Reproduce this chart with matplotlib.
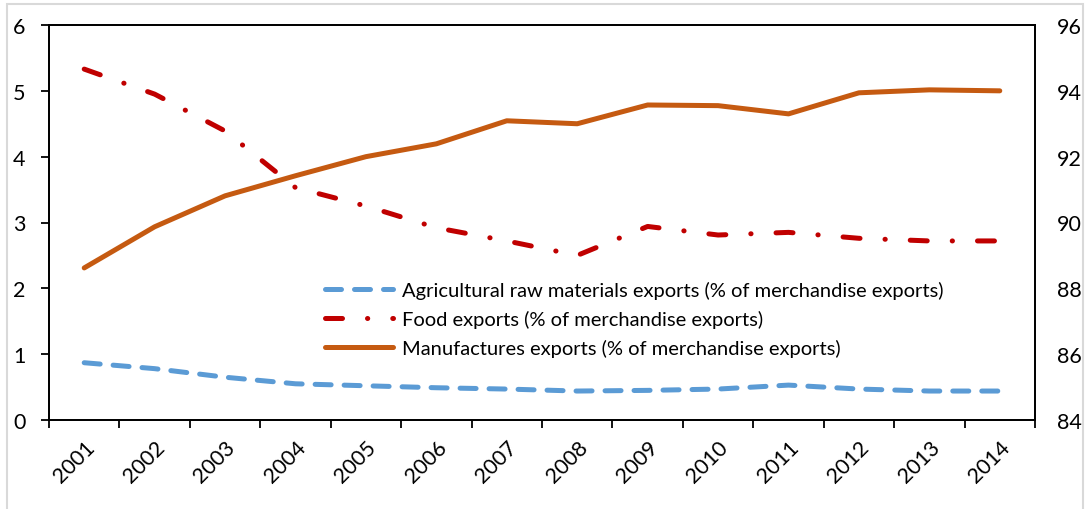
import matplotlib as mpl
mpl.use('Agg')
import matplotlib.pyplot as plt
from matplotlib.patches import Rectangle

plt.rcParams['font.family'] = ['Lato', 'DejaVu Sans']

# 数据
years = ['2001', '2002', '2003', '2004', '2005', '2006', '2007',
         '2008', '2009', '2010', '2011', '2012', '2013', '2014']
agri = [0.87, 0.78, 0.65, 0.55, 0.52, 0.49, 0.47, 0.44, 0.45, 0.47, 0.53, 0.47, 0.44, 0.44]
food = [5.33, 4.95, 4.39, 3.53, 3.25, 2.92, 2.72, 2.50, 2.94, 2.81, 2.85, 2.76, 2.72, 2.72]
manu = [88.62, 89.87, 90.81, 91.42, 92.00, 92.39, 93.09, 93.00, 93.57, 93.55, 93.30, 93.94, 94.03, 94.00]

labels = ['Agricultural raw materials exports (% of merchandise exports)',
          'Food exports (% of merchandise exports)',
          'Manufactures exports (% of merchandise exports)']

fs = 14.5
tfs = 15.5
fig = plt.figure(figsize=(10.88, 5.10), dpi=100)
ax = fig.add_axes([49/1088, 1-421/510, (1035-49)/1088, (421-26)/510])
ax2 = ax.twinx()

x = list(range(len(years)))
l1, = ax.plot(x, agri, color='#5B9BD5', lw=3.6, dashes=(3.2, 2.6),
              dash_capstyle='round', solid_capstyle='round')
l2, = ax.plot(x, food, color='#C00000', lw=3.6, dashes=(3.4, 5.0, 0.05, 5.0),
              dash_capstyle='round', solid_capstyle='round')
l3, = ax2.plot(x, manu, color='#C55A11', lw=3.6, solid_capstyle='round')

ax.set_xlim(-0.5, len(years) - 0.5)
ax.set_ylim(0, 6)
ax2.set_ylim(84, 96)
ax.set_yticks(range(0, 7))
ax2.set_yticks(range(84, 97, 2))

#x轴刻度在类别边界
ax.set_xticks([i - 0.5 for i in range(len(years) + 1)], minor=False)
ax.set_xticklabels([])
ax.set_xticks(x, minor=True)
ax.set_xticklabels(years, minor=True, rotation=45, ha='right', va='top',
                   rotation_mode='anchor', fontsize=tfs)
ax.tick_params(axis='x', which='major', direction='out', length=6, width=1.3)
ax.tick_params(axis='x', which='minor', length=0, pad=12)
ax.tick_params(axis='y', direction='out', length=6, width=1.3, labelsize=tfs, pad=11)
ax2.tick_params(axis='y', length=0, labelsize=tfs, pad=16)

for a in (ax, ax2):
    for s in a.spines.values():
        s.set_linewidth(1.3)
        s.set_color('black')

leg = ax.legend([l1, l2, l3], labels, loc='upper left',
                bbox_to_anchor=(276/986, 1-(282-26)/395), frameon=False,
                fontsize=fs, handlelength=3.4, handletextpad=0.4,
                labelspacing=0.55, borderaxespad=0, borderpad=0)
ax.set_zorder(ax2.get_zorder() + 1)
ax.patch.set_visible(False)

fig.patches.append(Rectangle((7/1088, -0.02), (1083-7)/1088, 1.02-5/510,
                             transform=fig.transFigure, fill=False,
                             edgecolor='#D9D9D9', lw=1.5))

plt.savefig('out.png', dpi=100)
